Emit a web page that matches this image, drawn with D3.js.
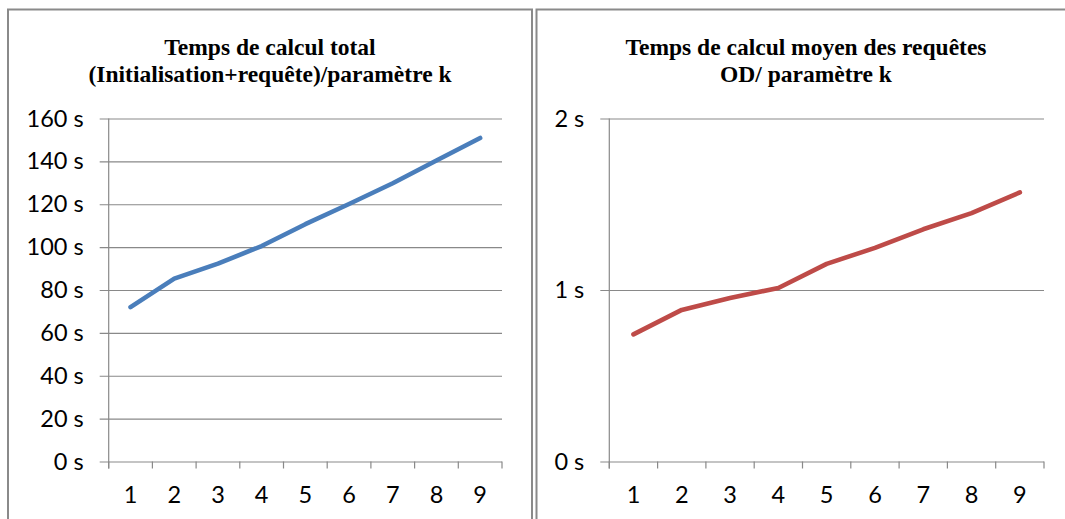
<!DOCTYPE html>
<html>
<head>
<meta charset="utf-8">
<script src="https://cdn.jsdelivr.net/npm/d3@7"></script>
<style>
  html, body { margin: 0; padding: 0; background: #fff; }
  svg { display: block; }
</style>
</head>
<body>
<svg id="chart" width="1065" height="519"></svg>
<script>
// ---- data ----
const kValues = [1, 2, 3, 4, 5, 6, 7, 8, 9];
const totalTime = [72, 85.3, 92.3, 100.5, 110.7, 120.1, 129.8, 140.4, 150.9];
const meanTime = [0.741, 0.884, 0.953, 1.012, 1.152, 1.246, 1.354, 1.448, 1.569];
const leftTicks = [0, 20, 40, 60, 80, 100, 120, 140, 160];
const rightTicks = [0, 1, 2];
const leftTitle = ["Temps de calcul total", "(Initialisation+requête)/paramètre k"];
const rightTitle = ["Temps de calcul moyen des requêtes", "OD/ paramètre k"];

const svg = d3.select("#chart");
const gridColor = "#898989";
const labelFont = "Lato, 'Open Sans', sans-serif";
const titleFont = "'Liberation Serif', 'Times New Roman', serif";

function panel(cfg) {
  const g = svg.append("g");
  // frame
  g.append("rect")
    .attr("x", cfg.box[0]).attr("y", cfg.box[1])
    .attr("width", cfg.box[2]).attr("height", cfg.box[3])
    .attr("fill", "none").attr("stroke", "#8a8a8a").attr("stroke-width", 2);

  // title
  const t = g.append("text")
    .attr("x", cfg.titleX).attr("y", cfg.titleY)
    .attr("text-anchor", "middle")
    .attr("font-family", titleFont).attr("font-weight", "bold")
    .attr("font-size", cfg.titleSize).attr("fill", "#000");
  cfg.title.forEach((line, i) => {
    t.append("tspan").attr("x", cfg.titleX).attr("dy", i === 0 ? 0 : cfg.titleLH).text(line);
  });

  const x = d3.scaleBand().domain(kValues).range([cfg.x0, cfg.x1]);
  const y = d3.scaleLinear().domain(cfg.domain).range([cfg.y0, cfg.y1]);

  // gridlines + y axis
  const yAxis = d3.axisLeft(y).tickValues(cfg.ticks)
    .tickSize(-(cfg.x1 - cfg.x0) - 9).tickPadding(16)
    .tickFormat(d => d + " s");
  const ya = g.append("g").attr("transform", `translate(${cfg.x0 - 9},0)`).call(yAxis);
  ya.select(".domain").remove();
  ya.selectAll(".tick line").attr("stroke", gridColor).attr("stroke-width", 1.2);
  ya.selectAll(".tick text")
    .attr("font-family", labelFont).attr("font-size", cfg.labelSize).attr("fill", "#000")
    .attr("x", -cfg.labelGap);

  // vertical axis line
  g.append("line")
    .attr("x1", cfg.x0).attr("x2", cfg.x0)
    .attr("y1", y(cfg.domain[1])).attr("y2", y(0) + 7)
    .attr("stroke", gridColor).attr("stroke-width", 1.2);

  // x axis ticks at band boundaries
  const bounds = kValues.map(k => x(k)).concat([x(kValues[kValues.length - 1]) + x.bandwidth()]);
  g.selectAll("line.xt").data(bounds).enter().append("line")
    .attr("class", "xt")
    .attr("x1", d => d).attr("x2", d => d)
    .attr("y1", y(0)).attr("y2", y(0) + 7)
    .attr("stroke", gridColor).attr("stroke-width", 1.2);

  // x labels
  g.selectAll("text.xl").data(kValues).enter().append("text")
    .attr("class", "xl")
    .attr("x", d => x(d) + x.bandwidth() / 2)
    .attr("y", y(0) + 41)
    .attr("text-anchor", "middle")
    .attr("font-family", labelFont).attr("font-size", cfg.labelSize).attr("fill", "#000")
    .text(d => d);

  // line
  const line = d3.line()
    .x((d, i) => x(kValues[i]) + x.bandwidth() / 2)
    .y(d => y(d));
  g.append("path").datum(cfg.values)
    .attr("d", line)
    .attr("fill", "none")
    .attr("stroke", cfg.color)
    .attr("stroke-width", 4.6)
    .attr("stroke-linecap", "round")
    .attr("stroke-linejoin", "round");
}

panel({
  box: [8, 9.5, 524, 530],
  title: leftTitle, titleX: 270, titleY: 55, titleLH: 27, titleSize: 23.5,
  x0: 108.7, x1: 502, y0: 461.5, y1: 118.5,
  domain: [0, 160], ticks: leftTicks,
  labelSize: 23.5, labelGap: 16,
  values: totalTime, color: "#4A7EBB"
});

panel({
  box: [536.5, 9.5, 540, 530],
  title: rightTitle, titleX: 806, titleY: 55, titleLH: 27, titleSize: 23.5,
  x0: 609.3, x1: 1044, y0: 461.5, y1: 118.5,
  domain: [0, 2], ticks: rightTicks,
  labelSize: 23.5, labelGap: 16,
  values: meanTime, color: "#BE4B48"
});
</script>
</body>
</html>
